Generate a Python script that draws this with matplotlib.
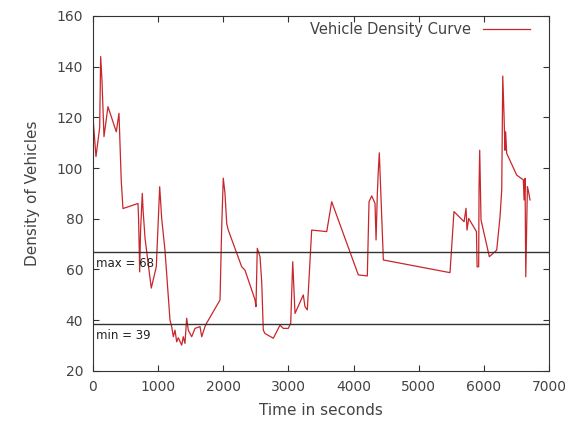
import matplotlib
matplotlib.use("Agg")
import matplotlib.pyplot as plt

# tempo (s) e densidade de veiculos
tempo = [0, 15, 46, 103, 118, 138, 169, 230, 358, 399, 434, 460, 691, 700, 717,
         730, 757, 770, 800, 895, 972, 1024, 1055, 1105, 1182, 1208, 1233, 1259,
         1285, 1310, 1362, 1386, 1412, 1438, 1463, 1515, 1566, 1643, 1669, 1719,
         1745, 1950, 1976, 2000, 2026, 2053, 2077, 2283, 2333, 2487, 2502, 2522,
         2564, 2590, 2614, 2640, 2768, 2871, 2921, 2998, 3035, 3066, 3101, 3228,
         3254, 3290, 3357, 3588, 3664, 4073, 4211, 4237, 4279, 4329, 4345, 4365,
         4380, 4395, 4457, 4866, 5480, 5541, 5696, 5726, 5741, 5767, 5886, 5896,
         5920, 5926, 5936, 5956, 6084, 6197, 6248, 6274, 6290, 6309, 6324, 6334,
         6350, 6504, 6606, 6617, 6632, 6643, 6668, 6683, 6708]
densidade = [120, 115, 104.5, 116, 144, 134.7, 112.4, 124.2, 114.3, 121.6, 95, 84,
             86, 80, 59, 75, 90, 83, 72, 52.6, 61, 92.6, 80, 67.6, 40, 37.4, 33.4,
             36, 31.4, 33, 30.1, 33.4, 30.8, 40.7, 36, 33.4, 36.7, 37.4, 33.4, 37.4,
             38.8, 47.9, 76.8, 96, 90, 78, 75.5, 61, 59.7, 48, 45.3, 68.3, 65, 55,
             36, 34.7, 32.8, 38, 36.7, 36.7, 38.7, 63, 42.6, 49.9, 45.3, 44, 75.5,
             74.9, 86.7, 57.8, 57.4, 86.7, 89, 86, 71.6, 90, 99.2, 106, 63.7, 61.7,
             58.7, 82.8, 78.8, 84.1, 75.5, 80.1, 74.9, 61, 61, 92.6, 107, 79.5, 65,
             67.6, 80.8, 91.3, 136.3, 121, 107, 114.3, 105.8, 97.2, 95.3, 87.4, 95.9,
             57.1, 92.6, 91, 87.4]

linha_max = 67
linha_min = 38.6
texto_max = "max = 68"
texto_min = "min = 39"

cinza = "#444444"

fig = plt.figure(figsize=(5.69, 4.21), dpi=100)
ax = fig.add_axes([0.1634, 0.1195, 0.8015, 0.8425])

ax.plot(tempo, densidade, color="#c8262b", lw=0.9, label="Vehicle Density Curve")
ax.axhline(linha_max, color="#333333", lw=1)
ax.axhline(linha_min, color="#333333", lw=1)
ax.text(40, linha_max - 2.2, texto_max, fontsize=8.5, va="top", ha="left", color="#222222")
ax.text(40, linha_min - 2.2, texto_min, fontsize=8.5, va="top", ha="left", color="#222222")

ax.set_xlim(0, 7000)
ax.set_ylim(20, 160)
ax.set_xticks(range(0, 7001, 1000))
ax.set_yticks(range(20, 161, 20))
ax.tick_params(direction="in", top=True, right=True, labelsize=10, labelcolor=cinza,
               color="#333333", length=4, pad=7)
for s in ax.spines.values():
    s.set_color("#333333")

ax.set_xlabel("Time in seconds", fontsize=11, color=cinza, labelpad=6)
ax.set_ylabel("Density of Vehicles", fontsize=11, color=cinza, labelpad=12)

leg = ax.legend(loc="upper right", bbox_to_anchor=(0.97, 1.0), frameon=False,
                markerfirst=False, fontsize=10.5, handlelength=3.2, borderaxespad=0)
for t in leg.get_texts():
    t.set_color(cinza)

fig.savefig("out.png", dpi=100)
